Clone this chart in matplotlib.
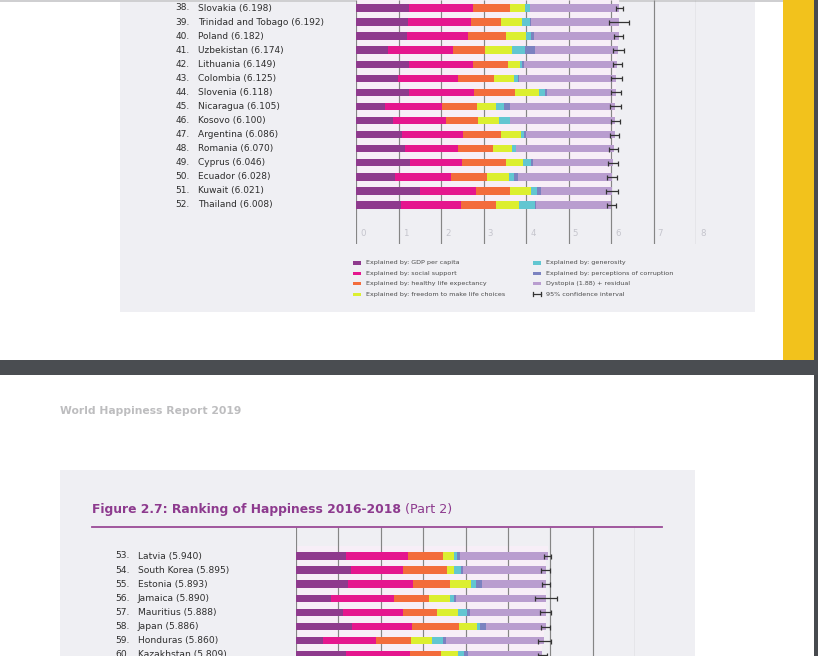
import matplotlib
matplotlib.use("Agg")
import matplotlib.pyplot as plt
from matplotlib.patches import Rectangle
from matplotlib.transforms import blended_transform_factory
import numpy as np

plt.rcParams['font.family'] = ['DejaVu Sans']

# ---------------- data ----------------
ranks_top = [38, 39, 40, 41, 42, 43, 44, 45, 46, 47, 48, 49, 50, 51, 52]
countries_top = ["Slovakia", "Trinidad and Tobago", "Poland", "Uzbekistan", "Lithuania",
                 "Colombia", "Slovenia", "Nicaragua", "Kosovo", "Argentina", "Romania",
                 "Cyprus", "Ecuador", "Kuwait", "Thailand"]
scores_top = [6.198, 6.192, 6.182, 6.174, 6.149, 6.125, 6.118, 6.105, 6.100, 6.086,
              6.070, 6.046, 6.028, 6.021, 6.008]
gdp_top = [1.246, 1.231, 1.206, 0.745, 1.238, 0.985, 1.258, 0.694, 0.882, 1.092, 1.162, 1.263, 0.912, 1.500, 1.050]
social_top = [1.504, 1.477, 1.438, 1.529, 1.515, 1.410, 1.523, 1.325, 1.232, 1.432, 1.232, 1.223, 1.312, 1.319, 1.409]
health_top = [0.881, 0.713, 0.884, 0.756, 0.818, 0.841, 0.953, 0.835, 0.758, 0.881, 0.825, 1.042, 0.868, 0.808, 0.828]
freedom_top = [0.334, 0.489, 0.483, 0.631, 0.291, 0.470, 0.564, 0.435, 0.489, 0.471, 0.462, 0.406, 0.498, 0.493, 0.557]
generosity_top = [0.121, 0.185, 0.117, 0.322, 0.043, 0.099, 0.144, 0.200, 0.262, 0.066, 0.083, 0.190, 0.126, 0.142, 0.359]
corruption_top = [0.014, 0.016, 0.050, 0.240, 0.042, 0.034, 0.057, 0.127, 0.006, 0.050, 0.005, 0.041, 0.087, 0.097, 0.028]
dystopia_top = [2.098, 2.081, 2.004, 1.951, 2.202, 2.286, 1.619, 2.489, 2.471, 2.094, 2.301, 1.881, 2.225, 1.662, 1.777]
ci_top = [0.086, 0.24, 0.11, 0.13, 0.106, 0.125, 0.11, 0.125, 0.11, 0.11, 0.106, 0.125, 0.118, 0.137, 0.098]

ranks_bot = [53, 54, 55, 56, 57, 58, 59, 60]
countries_bot = ["Latvia", "South Korea", "Estonia", "Jamaica", "Mauritius", "Japan",
                 "Honduras", "Kazakhstan"]
scores_bot = [5.940, 5.895, 5.893, 5.890, 5.888, 5.886, 5.860, 5.809]
gdp_bot = [1.187, 1.301, 1.237, 0.831, 1.120, 1.327, 0.642, 1.173]
social_bot = [1.465, 1.219, 1.528, 1.478, 1.402, 1.419, 1.236, 1.508]
health_bot = [0.812, 1.036, 0.874, 0.831, 0.798, 1.088, 0.828, 0.729]
freedom_bot = [0.264, 0.159, 0.495, 0.490, 0.498, 0.445, 0.507, 0.410]
generosity_bot = [0.075, 0.175, 0.103, 0.107, 0.215, 0.069, 0.246, 0.146]
corruption_bot = [0.064, 0.056, 0.161, 0.028, 0.060, 0.140, 0.078, 0.096]
dystopia_bot = [2.073, 1.949, 1.495, 2.125, 1.795, 1.398, 2.323, 1.747]
ci_bot = [0.08, 0.106, 0.09, 0.26, 0.125, 0.106, 0.146, 0.10]

x_ticks = [0, 1, 2, 3, 4, 5, 6, 7, 8]

legend_labels = ["Explained by: GDP per capita", "Explained by: social support",
                 "Explained by: healthy life expectancy",
                 "Explained by: freedom to make life choices",
                 "Explained by: generosity", "Explained by: perceptions of corruption",
                 "Dystopia (1.88) + residual", "95% confidence interval"]

colors = ["#8e3a8d", "#e5168e", "#f36c3b", "#dcef30", "#62c6d1", "#7b82c0", "#b99dcf"]
PINK = "#f7eef7"
PANEL = "#efeff3"
GRID = "#858585"

# ---------------- figure ----------------
W, H = 818, 656
fig = plt.figure(figsize=(W / 100, H / 100), dpi=100)
fig.patch.set_facecolor("white")


def fx(x):
    return x / W


def fy(y):
    return 1 - y / H


def rect(x0, y0, x1, y1, color, z=-10):
    fig.patches.append(Rectangle((fx(x0), fy(y1)), (x1 - x0) / W, (y1 - y0) / H,
                                 transform=fig.transFigure, facecolor=color,
                                 edgecolor="none", zorder=z))


# page decorations (behind everything)
rect(0, 0, 818, 2, "#cfcfd1")
rect(120, 2, 755, 312, PANEL)
rect(783, 0, 814, 360, "#f2c21c")
rect(814, 0, 818, 656, "#474a4e")
rect(0, 360, 818, 375, "#4a4d51")
rect(60, 470, 695, 656, PANEL)


def make_chart(px_left, px_unit, py_top, py_bottom, row0_py, row_step,
               ranks, names, scores, parts, ci, rank_px, name_px, fs, tick_labels):
    px_right = px_left + 8 * px_unit
    ax = fig.add_axes([fx(px_left), fy(py_bottom), (px_right - px_left) / W,
                       (py_bottom - py_top) / H])
    ax.set_zorder(1)
    ax.patch.set_alpha(0)
    ax.set_xlim(0, 8)
    y_top = (py_top - row0_py) / row_step
    y_bot = (py_bottom - row0_py) / row_step
    ax.set_ylim(y_bot, y_top)
    ax.axis("off")
    n = len(names)
    rows = np.arange(n)
    h = 0.53
    # light pink track behind bars
    ax.barh(rows - 0.5 + h / 2, scores, height=1.0, left=0, color=PINK, zorder=1,
            linewidth=0)
    ax.vlines(x_ticks, y_top, y_bot, colors=GRID, linewidth=0.85, zorder=2)
    left = np.zeros(n)
    for vals, c in zip(parts, colors):
        ax.barh(rows, vals, height=h, left=left, color=c, zorder=3, linewidth=0)
        left = left + np.array(vals)
    ax.errorbar(scores, rows, xerr=ci, fmt="none", ecolor="#333333", elinewidth=0.9,
                capsize=1.8, capthick=0.9, zorder=4)
    tr = blended_transform_factory(fig.transFigure, ax.transData)
    for i in range(n):
        ax.text(fx(rank_px), i, f"{ranks[i]}.", transform=tr, ha="right", va="center",
                fontsize=fs, color="#2e2e2e", clip_on=False)
        ax.text(fx(name_px), i, f"{names[i]} ({scores[i]:.3f})", transform=tr,
                ha="left", va="center", fontsize=fs, color="#2e2e2e", clip_on=False)
    if tick_labels:
        ty = (233.5 - row0_py) / row_step
        for t in x_ticks:
            ax.text(t + 0.1, ty, str(t), ha="left", va="center", fontsize=6.2,
                    color="#c4c4cc")
    return ax


make_chart(356, 42.5, 0, 244, 8, 14.07, ranks_top, countries_top, scores_top,
           [gdp_top, social_top, health_top, freedom_top, generosity_top,
            corruption_top, dystopia_top], ci_top, 190, 198, 6.45, True)

make_chart(296, 42.4, 527, 656, 556, 14.1, ranks_bot, countries_bot, scores_bot,
           [gdp_bot, social_bot, health_bot, freedom_bot, generosity_bot,
            corruption_bot, dystopia_bot], ci_bot, 130, 137.5, 6.6, False)

# legend
leg_rows = [262.7, 273.3, 283.6, 294.3]
for k in range(8):
    col = k // 4
    r = k % 4
    mx = 352.7 if col == 0 else 532.5
    tx = 366.5 if col == 0 else 545.5
    y = leg_rows[r]
    if k < 7:
        rect(mx, y - 1.8, mx + 8, y + 1.8, colors[k], z=5)
    else:
        fig.lines.append(plt.Line2D([fx(mx), fx(mx + 8)], [fy(y), fy(y)],
                                    transform=fig.transFigure, color="#333333", lw=0.9))
        for xx in (mx, mx + 8):
            fig.lines.append(plt.Line2D([fx(xx), fx(xx)], [fy(y - 2.2), fy(y + 2.2)],
                                        transform=fig.transFigure, color="#333333", lw=0.9))
    fig.text(fx(tx), fy(y), legend_labels[k], ha="left", va="center", fontsize=4.6,
             color="#4a4a4a")

# page 2 header & title
fig.text(fx(60), fy(411.5), "World Happiness Report 2019", ha="left", va="center",
         fontsize=7.75, fontweight="bold", color="#bdbdbf")
t1 = fig.text(fx(92), fy(510), "Figure 2.7: Ranking of Happiness 2016-2018",
              ha="left", va="center", fontsize=8.95, fontweight="bold", color="#8d3a8e")
fig.canvas.draw()
bb = t1.get_window_extent()
fig.text(bb.x1 / W + fx(4), fy(510), "(Part 2)", ha="left", va="center",
         fontsize=9.2, color="#8d3a8e")
fig.lines.append(plt.Line2D([fx(92), fx(662)], [fy(527), fy(527)],
                            transform=fig.transFigure, color="#9a4a97", lw=1.3))

fig.savefig("out.png", dpi=100)
